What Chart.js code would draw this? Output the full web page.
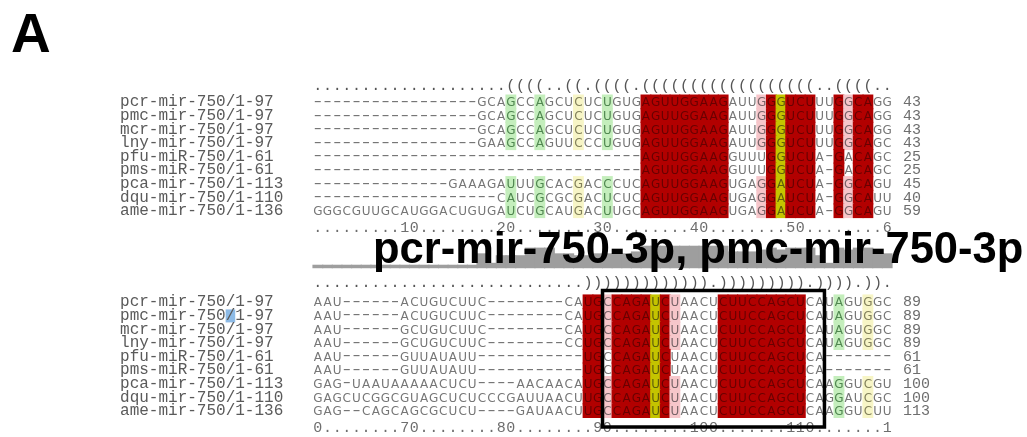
<!DOCTYPE html>
<html>
<head>
<meta charset="utf-8">
<title>miR-750 precursor alignment</title>
<script src="https://cdn.jsdelivr.net/npm/chart.js@4.4.1/dist/chart.umd.min.js"></script>
<style>
  html, body { margin: 0; padding: 0; background: #ffffff; }
  canvas { display: block; }
</style>
</head>
<body>
<canvas id="alignment" width="1027" height="437"></canvas>
<script>
// ---- alignment data -------------------------------------------------------
const panelLetter = 'A';
const matureLabel = 'pcr-mir-750-3p, pmc-mir-750-3p';

const seqNames = [
  'pcr-mir-750/1-97', 'pmc-mir-750/1-97', 'mcr-mir-750/1-97', 'lny-mir-750/1-97',
  'pfu-miR-750/1-61', 'pms-miR-750/1-61', 'pca-mir-750/1-113', 'dqu-mir-750/1-110',
  'ame-mir-750/1-136'
];

// alignment columns 1-60
const block1 = [
  '-'.repeat(17) + 'GCAGCCAGCUCUCUGUG' + 'AGUUGGAAG' + 'AUUGGGUCUUUGGCAGG',
  '-'.repeat(17) + 'GCAGCCAGCUCUCUGUG' + 'AGUUGGAAG' + 'AUUGGGUCUUUGGCAGG',
  '-'.repeat(17) + 'GCAGCCAGCUCUCUGUG' + 'AGUUGGAAG' + 'AUUGGGUCUUUGGCAGG',
  '-'.repeat(17) + 'GAAGCCAGUUCCCUGUG' + 'AGUUGGAAG' + 'AUUGGGUCUUUGGCAGC',
  '-'.repeat(34) + 'AGUUGGAAG' + 'GUUUGGUCUA-GACAGC',
  '-'.repeat(34) + 'AGUUGGAAG' + 'GUUUGGUCUA-GACAGC',
  '-'.repeat(14) + 'GAAAGAUUUGCACGACCCUC' + 'AGUUGGAAG' + 'UGAGGAUCUA-GGCAGU',
  '-'.repeat(19) + 'CAUCGCGCGACUCUC' + 'AGUUGGAAG' + 'UGAGGAUCUA-GGCAUU',
  'GGGCGUUGCAUGGACU' + 'GUGAUCUGCAUGACUUGC' + 'AGUUGGAAG' + 'UGAGGAUCUA-GGCAGU'
];

// alignment columns 61-120
const block2 = [
  'AAU------ACUGUCUUC--------CA' + 'UGCCAGAUCUAACU' + 'CUUCCAGCU' + 'CAUAGUGGC',
  'AAU------ACUGUCUUC--------CA' + 'UGCCAGAUCUAACU' + 'CUUCCAGCU' + 'CAUAGUGGC',
  'AAU------GCUGUCUUC--------CA' + 'UGCCAGAUCUAACU' + 'CUUCCAGCU' + 'CAUAGUGGC',
  'AAU------GCUGUCUUC--------CC' + 'UGCCAGAUCUAACU' + 'CUUCCAGCU' + 'CAUAGUGGC',
  'AAU------GUUAUAUU-----------' + 'UGCCAGAUCUAACU' + 'CUUCCAGCU' + 'CA-------',
  'AAU------GUUAUAUU-----------' + 'UGCCAGAUCUAACU' + 'CUUCCAGCU' + 'CA-------',
  'GAG-UAAUAAAAACUCU----AACAACA' + 'UGCCAGAUCUAACU' + 'CUUCCAGCU' + 'CAAGGUCGU',
  'GAGCUCGGCGUAGCUCUCCCGAUUAACU' + 'UGCCAGAUCUAACU' + 'CUUCCAGCU' + 'CAGGAUCGC',
  'GAG--CAGCAGCGCUCU----GAUAACU' + 'UGCCAGAUCUAACU' + 'CUUCCAGCU' + 'CAAGGUCUU'
];

// consensus secondary structure, dot-bracket
const structure1 = '.'.repeat(20) + '((((..((.((((.' + '('.repeat(18) + '..((((..';
const structure2 = '.'.repeat(28) + ')'.repeat(13) + '.' + ')'.repeat(9) + '.))))' + '.)).';

// base-pair colour class per column: R conserved pair, P pair with some
// mismatching sequences, Y one-sided change, g/l compensatory changes
const pairClass1 = '.'.repeat(20) + 'g..g...l..g...' + 'RRRRRRRRR' + '...PRYRRR..RPRR..';
const pairClass2 = '.'.repeat(28) + 'RRPRRRRYRP' + '....' + 'RRRRRRRRR' + '...g..l..';

// ruler tick numbers along the alignment
const rulerTicks = [10, 20, 30, 40, 50, 60, 70, 80, 90, 100, 110, 120];

// column conservation histogram under columns 1-60 (0-10)
const conservation1 = [
  0, 0, 0, 0, 0, 0, 0, 0, 0, 0, 0, 0, 0, 0, 0, 0, 0,
  6, 1, 5, 5, 5, 9, 9, 9, 6, 6, 5, 5, 6, 6, 6, 6, 7,
  10, 10, 10, 10, 10, 10, 10, 10, 10,
  7, 7, 7, 8, 9, 8, 9, 9, 9, 5, 1, 9, 8, 9, 9, 6, 6
];

// mature miR-750-3p, alignment columns
const matureStart = 91;
const matureEnd = 113;

// ---- derived tables -------------------------------------------------------
const COLS = 60;
const fullSeqs = block1.map((s, r) => s + block2[r]);
const structure = structure1 + structure2;
const pairClass = pairClass1 + pairClass2;

const partner = new Array(structure.length).fill(-1);
(function () {
  const stack = [];
  for (let i = 0; i < structure.length; i++) {
    if (structure[i] === '(') stack.push(i);
    else if (structure[i] === ')') { const j = stack.pop(); partner[i] = j; partner[j] = i; }
  }
})();

const canonical = new Set(['AU', 'UA', 'GC', 'CG', 'GU', 'UG']);
function cellClass(r, i) {
  const ch = fullSeqs[r][i];
  const cls = pairClass[i];
  if (ch === '-' || cls === '.') return null;
  const p = partner[i];
  if (p >= 0 && !canonical.has(ch + fullSeqs[r][p])) return null;
  return cls;
}

const FILL = { R: 'rgb(178,0,0)', P: 'rgb(246,198,202)', Y: 'rgb(196,196,0)', g: 'rgb(196,238,188)', l: 'rgb(247,245,198)' };
const INK = { R: 'rgb(105,0,0)', P: 'rgb(120,100,104)', Y: 'rgb(95,95,10)', g: 'rgb(80,135,80)', l: 'rgb(130,128,90)' };
const PLAIN_INK = 'rgb(118,118,118)';

// vertical layout in text-line units
const structLine = [0, 14.46];
const firstRowLine = [1, 15.7];
const rulerLine = [10.2, 24.9];
const boxTop = 14.87, boxBottom = 24.9;

const cellData = [], cellFill = [];
fullSeqs.forEach((seq, r) => {
  for (let i = 0; i < seq.length; i++) {
    const cls = cellClass(r, i);
    if (!cls) continue;
    const b = Math.floor(i / COLS);
    const L = firstRowLine[b] + r;
    cellData.push({ x: (i % COLS) + 1, y: [L - 0.52, L + 0.52] });
    cellFill.push(FILL[cls]);
  }
});

const histData = conservation1.map((v, i) => ({ x: i + 1, y: [-1.5, v] }));

const bx0 = matureStart - COLS - 0.5, bx1 = matureEnd - COLS + 0.5;
const boxData = [
  { x: bx0, y: boxTop }, { x: bx1, y: boxTop }, { x: bx1, y: boxBottom },
  { x: bx0, y: boxBottom }, { x: bx0, y: boxTop }
];

function rulerString(b) {
  const chars = new Array(COLS).fill('.');
  rulerTicks.forEach(t => {
    const s = String(t);
    for (let k = 0; k < s.length; k++) {
      const c = t + k - b * COLS;
      if (c >= 1 && c <= COLS) chars[c - 1] = s[k];
    }
  });
  return chars.join('');
}

function residueCount(r, uptoCol) {
  let n = 0;
  for (let i = 0; i < uptoCol; i++) if (fullSeqs[r][i] !== '-') n++;
  return n;
}

// ---- text layers ----------------------------------------------------------
const alignmentText = {
  id: 'alignmentText',
  afterDatasetDraw(chart, args) {
    if (args.index !== 0) return;
    const ctx = chart.ctx;
    const xs = chart.scales.x, ys = chart.scales.y;
    const px = c => xs.getPixelForValue(c);
    const py = L => ys.getPixelForValue(L);
    const labelCol = -19.5, numberCol = 61.64;
    ctx.save();
    for (let b = 0; b < 2; b++) {
      // structure line
      ctx.font = '15px "Liberation Mono"';
      ctx.fillStyle = 'rgb(85,85,85)';
      ctx.textAlign = 'center';
      ctx.textBaseline = 'alphabetic';
      const st = structure.slice(b * COLS, (b + 1) * COLS);
      for (let i = 0; i < COLS; i++) ctx.fillText(st[i], px(i + 1), py(structLine[b]) + 2);
      // ruler
      ctx.fillStyle = 'rgb(110,110,110)';
      const rl = rulerString(b);
      for (let i = 0; i < COLS; i++) ctx.fillText(rl[i], px(i + 1), py(rulerLine[b]) + 5);
      // sequences
      for (let r = 0; r < seqNames.length; r++) {
        const y = py(firstRowLine[b] + r);
        ctx.textAlign = 'left';
        ctx.font = '16px "Liberation Mono"';
        if (b === 1 && r === 1) {
          ctx.fillStyle = 'rgb(140,186,230)';
          ctx.fillRect(px(labelCol) + 11 * 9.6, y - 6, 9.6, 13);
        }
        ctx.fillStyle = 'rgb(90,90,90)';
        ctx.fillText(seqNames[r], px(labelCol), y + 4.5);
        ctx.font = '15px "Liberation Mono"';
        ctx.fillStyle = 'rgb(110,110,110)';
        ctx.fillText(String(residueCount(r, (b + 1) * COLS)), px(numberCol), y + 4.5);
        ctx.textAlign = 'center';
        for (let i = 0; i < COLS; i++) {
          const gi = b * COLS + i;
          const ch = fullSeqs[r][gi];
          const cls = cellClass(r, gi);
          if (ch === '-') {
            // gap symbols are drawn a little wider so runs read as a dashed rule
            ctx.save();
            ctx.font = '15px "Liberation Mono"';
            ctx.fillStyle = PLAIN_INK;
            ctx.translate(px(i + 1), y + 4);
            ctx.scale(1.45, 1);
            ctx.fillText('-', 0, 0);
            ctx.restore();
          } else {
            ctx.font = '12px "DejaVu Sans"';
            ctx.fillStyle = cls ? INK[cls] : PLAIN_INK;
            ctx.fillText(ch, px(i + 1), y + 4.5);
          }
        }
      }
    }
    ctx.restore();
  },
  afterDatasetsDraw(chart) {
    const ctx = chart.ctx;
    ctx.save();
    ctx.fillStyle = '#000';
    ctx.textAlign = 'left';
    ctx.textBaseline = 'alphabetic';
    ctx.font = 'bold 55px "Liberation Sans"';
    ctx.fillText(panelLetter, 11, 52);
    ctx.font = 'bold 43.5px "Liberation Sans"';
    ctx.fillText(matureLabel, 373, 263);
    ctx.restore();
  }
};

// ---- chart ----------------------------------------------------------------
new Chart(document.getElementById('alignment'), {
  type: 'bar',
  data: {
    datasets: [
      { label: 'pairs', data: cellData, backgroundColor: cellFill, borderWidth: 0,
        barThickness: 10.2, grouped: false, order: 3, yAxisID: 'y' },
      { label: 'conservation', data: histData, backgroundColor: 'rgb(158,158,158)', borderWidth: 0,
        barThickness: 10.2, grouped: false, order: 2, yAxisID: 'yh' },
      { type: 'line', label: 'mature', data: boxData, borderColor: '#000', borderWidth: 3.5,
        pointRadius: 0, fill: false, tension: 0, borderJoinStyle: 'miter', borderCapStyle: 'square',
        order: 1, yAxisID: 'y' }
    ]
  },
  options: {
    responsive: false,
    animation: false,
    events: [],
    layout: { padding: 0 },
    plugins: { legend: { display: false }, tooltip: { enabled: false }, title: { display: false } },
    scales: {
      x: { type: 'linear', min: -31.94, max: 74.49, display: false, offset: false },
      y: { type: 'linear', min: -6.493, max: 25.64, reverse: true, display: false },
      yh: { type: 'linear', min: -90.5, max: 139.5, display: false }
    }
  },
  plugins: [alignmentText]
});
</script>
</body>
</html>
